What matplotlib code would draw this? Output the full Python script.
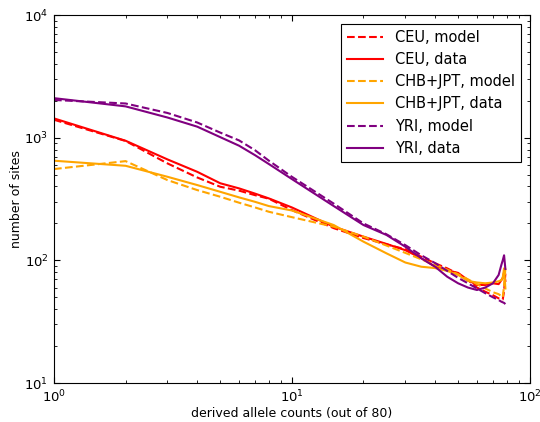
import numpy as np
import matplotlib
matplotlib.use("Agg")
import matplotlib.pyplot as plt

# derived allele count positions (sample of 80 chromosomes)
counts = [1, 2, 3, 4, 5, 6, 7, 8, 10, 15, 20, 25, 30, 35, 40, 45, 50, 55, 60,
          65, 70, 74, 76, 77, 78, 79]

ceu_model = [1400, 940, 617, 474, 398, 370, 340, 318, 257, 183, 152, 135, 123,
             107, 94.6, 86, 77.5, 69, 60, 55.5, 52, 49, 48, 48, 56, 78]
ceu_data = [1436, 944, 665, 527, 425, 386, 350, 320, 270, 188, 156, 136, 121,
            104, 89, 83, 79, 69, 63, 63, 65, 64, 69, 72, 80, 68]
chb_model = [555, 644, 451, 374, 330, 295, 270, 249, 225, 188, 156, 132, 115,
             102, 92, 84, 77, 70, 64, 59, 55, 53, 51, 50, 62, 86]
chb_data = [649, 590, 480, 411, 362, 326, 300, 277, 255, 194, 142, 114, 96,
            88.7, 86.5, 82, 76, 68, 66, 65, 66, 67.5, 69, 72, 86, 59]
yri_model = [2030, 1900, 1590, 1330, 1100, 950, 790, 650, 480, 290, 200, 163,
             133, 110, 95, 82, 72, 65, 59, 54, 50, 47.5, 46, 45.5, 45, 44]
yri_data = [2100, 1800, 1460, 1230, 1010, 860, 720, 610, 460, 277, 194, 161,
            129, 104, 88.7, 73.5, 65, 60, 57.3, 60, 65, 76, 92, 100, 110, 85]

plt.rcParams['xtick.direction'] = 'in'
plt.rcParams['ytick.direction'] = 'in'
plt.rcParams['xtick.top'] = True
plt.rcParams['ytick.right'] = True
plt.rcParams['font.size'] = 9

fig = plt.figure(figsize=(5.4, 4.22), dpi=100)
ax = fig.add_axes([0.1, 0.0924, 0.881, 0.872])

ax.loglog(counts, ceu_model, '--', color='red', lw=1.5, label='CEU, model')
ax.loglog(counts, ceu_data, '-', color='red', lw=1.5, label='CEU, data')
ax.loglog(counts, chb_model, '--', color='orange', lw=1.5, label='CHB+JPT, model')
ax.loglog(counts, chb_data, '-', color='orange', lw=1.5, label='CHB+JPT, data')
ax.loglog(counts, yri_model, '--', color='purple', lw=1.5, label='YRI, model')
ax.loglog(counts, yri_data, '-', color='purple', lw=1.5, label='YRI, data')

ax.set_xlim(1, 100)
ax.set_ylim(10, 1e4)
ax.tick_params(which='major', length=4, labelsize=9.5, pad=4)
ax.tick_params(which='minor', length=2)
ax.set_xlabel('derived allele counts (out of 80)', labelpad=1)
ax.set_ylabel('number of sites', labelpad=1)

leg = ax.legend(loc='upper right', fontsize=10.5, fancybox=False,
                edgecolor='black', framealpha=1, handlelength=2.5,
                borderaxespad=0.6)
leg.get_frame().set_linewidth(0.8)

plt.savefig('out.png', dpi=100)
